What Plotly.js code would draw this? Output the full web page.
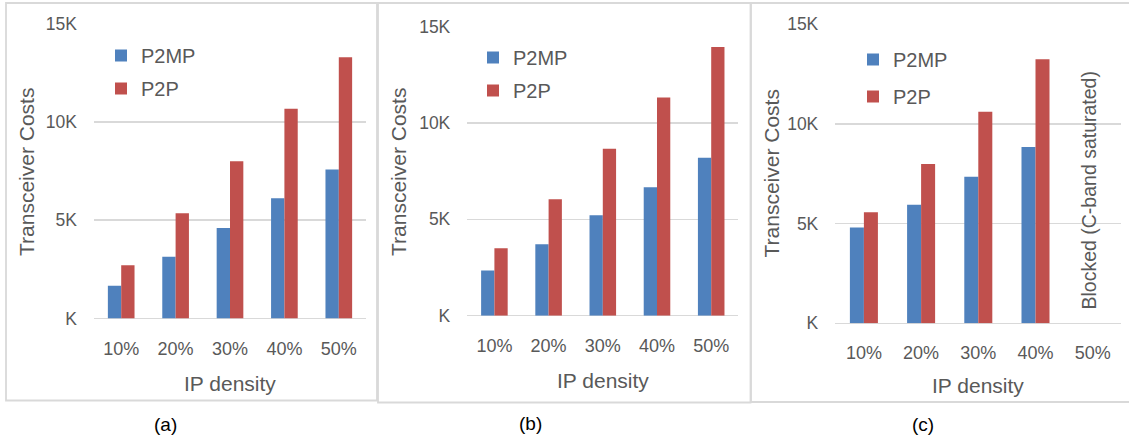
<!DOCTYPE html>
<html>
<head>
<meta charset="utf-8">
<script src="https://cdn.plot.ly/plotly-3.0.1.min.js"></script>
<style>html,body{margin:0;padding:0;background:#fff;}#chart{width:1129px;height:441px;}</style>
</head>
<body>
<div id="chart"></div>
<script>
// ---- data ----
const categories = ['10%', '20%', '30%', '40%', '50%'];
const seriesNames = ['P2MP', 'P2P'];
const p2mpA = [1670, 3140, 4600, 6110, 7570];
const p2pA  = [2710, 5350, 8000, 10660, 13290];
const p2mpB = [2340, 3710, 5210, 6670, 8200];
const p2pB  = [3500, 6040, 8670, 11320, 13950];
const p2mpC = [4800, 5950, 7350, 8840, null];
const p2pC  = [5570, 7990, 10610, 13250, null];
const yTickVals = [0, 5000, 10000, 15000];
const yTickText = ['K', '5K', '10K', '15K'];
const yTitle = 'Transceiver Costs';
const xTitle = 'IP density';
const panelLabels = ['(a)', '(b)', '(c)'];
const blockedNote = 'Blocked (C-band saturated)';

// ---- style ----
const W = 1129, H = 441;
const BLUE = '#4f81bd', RED = '#c0504d', GREY = '#595959', GRID = '#d9d9d9';
const FONT = 'Liberation Sans, Arial, sans-serif';
const px = v => v / W;
const py = v => 1 - v / H;

const panels = [
  {p2mp: p2mpA, p2p: p2pA, xd: [94, 366], yd: [318.5, 23.5], leg: [101, 36], gap: 4,
   yt: [26, 172], xt: [230, 383], cap: [165, 424.5]},
  {p2mp: p2mpB, p2p: p2pB, xd: [467.3, 738.3], yd: [315.7, 26.7], leg: [473, 38], gap: 4,
   yt: [398, 172], xt: [603, 380], cap: [530, 423.5]},
  {p2mp: p2mpC, p2p: p2pC, xd: [835.3, 1121.3], yd: [323.3, 24.3], leg: [853, 40], gap: 8,
   yt: [770.5, 174], xt: [978.3, 385.7], cap: [923, 424]}
];

const traces = [];
const layout = {
  width: W, height: H,
  margin: {l: 0, r: 0, t: 0, b: 0},
  paper_bgcolor: '#fff', plot_bgcolor: '#fff',
  barmode: 'group', bargap: 0.51, bargroupgap: 0,
  font: {family: FONT, color: GREY},
  shapes: [], annotations: []
};

panels.forEach((p, i) => {
  const s = i === 0 ? '' : String(i + 1);
  const legName = 'legend' + s;
  [[seriesNames[0], p.p2mp, BLUE], [seriesNames[1], p.p2p, RED]].forEach(([name, vals, col]) => {
    traces.push({
      type: 'bar', name: name, x: categories, y: vals,
      xaxis: 'x' + s, yaxis: 'y' + s,
      marker: {color: col, line: {width: 0}},
      legend: legName, legendgroup: name + s,
      hoverinfo: 'x+y+name'
    });
  });
  layout['xaxis' + s] = {
    domain: [px(p.xd[0]), px(p.xd[1])], anchor: 'y' + s,
    type: 'category', showgrid: false, zeroline: false, showline: false,
    ticks: '', ticklabelstandoff: 17,
    tickfont: {family: FONT, size: 18, color: GREY}, fixedrange: true
  };
  layout['yaxis' + s] = {
    domain: [py(p.yd[0]), py(p.yd[1])], anchor: 'x' + s,
    range: [0, 15000], showgrid: true, gridcolor: GRID, gridwidth: 1.5,
    zeroline: true, zerolinecolor: GRID, zerolinewidth: 1.5, showline: false,
    tickvals: yTickVals, ticktext: yTickText, ticks: '', ticklabelstandoff: 16,
    tickfont: {family: FONT, size: 17.5, color: GREY}, fixedrange: true
  };
  layout[legName] = {
    x: px(p.leg[0]), y: py(p.leg[1]), xanchor: 'left', yanchor: 'top',
    xref: 'paper', yref: 'paper', orientation: 'v',
    traceorder: 'grouped', tracegroupgap: p.gap,
    bgcolor: 'rgba(0,0,0,0)', borderwidth: 0,
    font: {family: FONT, size: 20, color: GREY}
  };
  layout.annotations.push({
    text: yTitle, textangle: -90, showarrow: false,
    xref: 'paper', yref: 'paper', x: px(p.yt[0]), y: py(p.yt[1]),
    xanchor: 'center', yanchor: 'middle',
    font: {family: FONT, size: 21, color: GREY}
  });
  layout.annotations.push({
    text: xTitle, showarrow: false,
    xref: 'paper', yref: 'paper', x: px(p.xt[0]), y: py(p.xt[1]),
    xanchor: 'center', yanchor: 'middle',
    font: {family: FONT, size: 21, color: GREY}
  });
  layout.annotations.push({
    text: panelLabels[i], showarrow: false,
    xref: 'paper', yref: 'paper', x: px(p.cap[0]), y: py(p.cap[1]),
    xanchor: 'center', yanchor: 'middle',
    font: {family: FONT, size: 19, color: '#000'}
  });
});

layout.annotations.push({
  text: blockedNote, textangle: -90, showarrow: false,
  xref: 'paper', yref: 'paper', x: px(1089), y: py(190.5),
  xanchor: 'center', yanchor: 'middle',
  font: {family: FONT, size: 19.5, color: GREY}
});

// panel frames
[[6, 377, 3, 400.5], [378, 750.5, 3, 402.5], [751, 1135, 3, 402]].forEach(r => {
  layout.shapes.push({
    type: 'rect', xref: 'paper', yref: 'paper', layer: 'below',
    x0: px(r[0]), x1: px(r[1]), y0: py(r[3]), y1: py(r[2]),
    line: {color: GRID, width: 1.8}, fillcolor: 'rgba(0,0,0,0)'
  });
});

Plotly.newPlot('chart', traces, layout, {displayModeBar: false, staticPlot: true});
</script>
</body>
</html>
